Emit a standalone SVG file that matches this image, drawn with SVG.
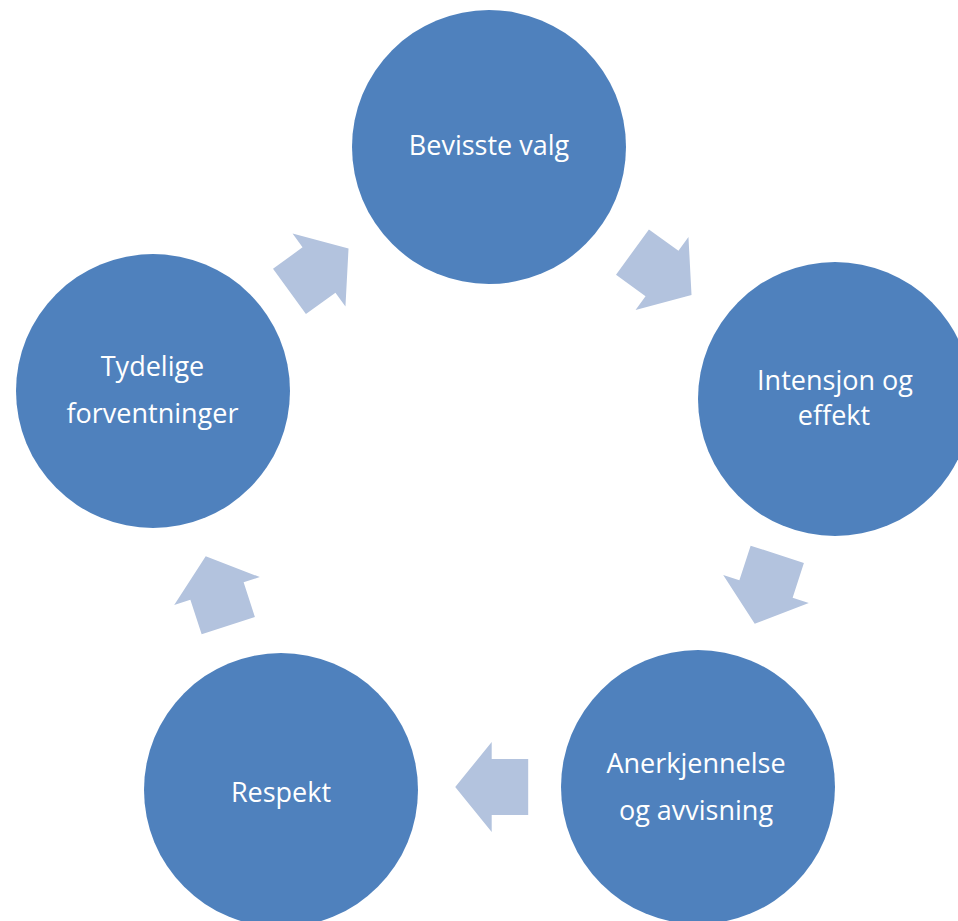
<svg xmlns="http://www.w3.org/2000/svg" width="958" height="921" viewBox="0 0 958 921">
<style>
.node{fill:#4F81BD}
.lbl{font-family:"Open Sans","Noto Sans",sans-serif;font-size:27px;fill:#FFFFFF;text-anchor:middle}
.arr{fill:#B3C3DE}
</style>
<defs>
<polygon id="arrow" points="-36.5,-28 0,-28 0,-45 36.5,0 0,45 0,28 -36.5,28"/>
</defs>
<rect width="958" height="921" fill="#FFFFFF"/>
<g id="connectors">
<use href="#arrow" class="arr" transform="translate(662,273.5) rotate(36)"/>
<use href="#arrow" class="arr" transform="translate(766,589) rotate(108)"/>
<use href="#arrow" class="arr" transform="translate(491.7,787) rotate(180)"/>
<use href="#arrow" class="arr" transform="translate(217,591) rotate(-108)"/>
<use href="#arrow" class="arr" transform="translate(319,270) rotate(-36)"/>
</g>
<g id="node-bevisste">
<circle class="node" cx="489" cy="147" r="137"/>
<text class="lbl" x="489" y="155">Bevisste valg</text>
</g>
<g id="node-intensjon">
<circle class="node" cx="835" cy="399" r="137"/>
<text class="lbl" x="835" y="390">Intensjon og</text>
<text class="lbl" x="834" y="425">effekt</text>
</g>
<g id="node-anerkjennelse">
<circle class="node" cx="698" cy="787" r="137"/>
<text class="lbl" x="696" y="773">Anerkjennelse</text>
<text class="lbl" x="696" y="820">og avvisning</text>
</g>
<g id="node-respekt">
<circle class="node" cx="281" cy="790" r="137"/>
<text class="lbl" x="281" y="802">Respekt</text>
</g>
<g id="node-tydelige">
<circle class="node" cx="153" cy="391" r="137"/>
<text class="lbl" x="152.5" y="376">Tydelige</text>
<text class="lbl" x="152.5" y="423">forventninger</text>
</g>
</svg>
